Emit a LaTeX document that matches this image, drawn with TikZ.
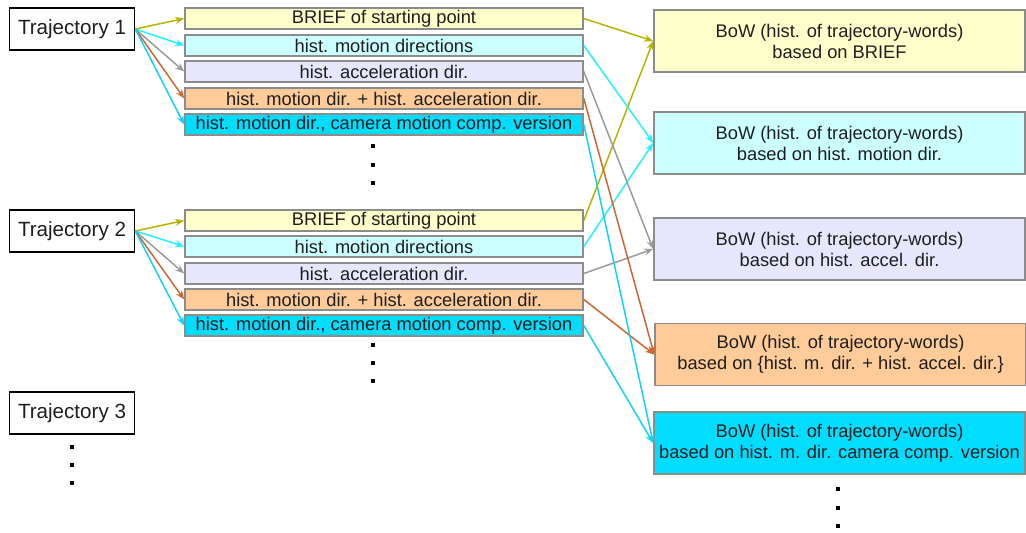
\documentclass[tikz,border=0pt]{standalone}
\usepackage{fontspec}
\setmainfont{Liberation Sans}
\usetikzlibrary{arrows,arrows.meta,positioning}

\definecolor{boxgray}{HTML}{8C8C8C}
\definecolor{briefFill}{HTML}{FFFFCC}
\definecolor{motionFill}{HTML}{CCFFFF}
\definecolor{accelFill}{HTML}{E6E6FC}
\definecolor{bothFill}{HTML}{FFCC99}
\definecolor{camFill}{HTML}{00DDFF}
\definecolor{briefArrow}{HTML}{B4B400}
\definecolor{motionArrow}{HTML}{22F0FF}
\definecolor{accelArrow}{HTML}{9A9A9A}
\definecolor{bothArrow}{HTML}{CC6633}
\definecolor{camArrow}{HTML}{11D2F2}
\definecolor{txt}{HTML}{1E1E1E}

\begin{document}
\begin{tikzpicture}[x=0.5pt,y=-0.5pt,>={Stealth[length=4.5pt,width=3.5pt]}]
\tikzstyle{traj}=[draw=black, line width=0.8pt, minimum width=62.5pt, minimum height=21pt, inner sep=0pt, text=txt, font=\fontsize{10.3}{12}\selectfont]
\tikzstyle{feat}=[draw=boxgray, line width=0.8pt, minimum width=199pt, minimum height=10.5pt, inner sep=0pt, text=txt, font=\fontsize{9.15}{11}\selectfont]
\tikzstyle{bow}=[draw=boxgray, line width=0.8pt, minimum width=185.5pt, minimum height=31pt, inner sep=0pt, align=center, text=txt, font=\fontsize{9.15}{10.5}\selectfont]
\tikzstyle{dot}=[fill=black, minimum size=2pt, inner sep=0pt]
\tikzstyle{link}=[line width=0.75pt]

\useasboundingbox (0,0) rectangle (1026,532);

%%%%%%%%%%%%%%%%%%%%%%%%%%%%%%
%%%%%
%%%%% TRAJECTORIES
\node[traj] (t_1) at (72,29) {Trajectory 1};
\node[traj] (t_2) at (72,231) {Trajectory 2};
\node[traj] (t_3) at (72,413) {Trajectory 3};

\node[dot] (d_31) at (72,447) {};
\node[dot] (d_32) at (72,465) {};
\node[dot] (d_33) at (72,483) {};

%%%%%%%%%%%%%%%%%%%%%%%%%%%%%%
%%%%%
%%%%% FEATURES OF TRAJECTORY 1
\node[feat, fill=briefFill] (b_1) at (384,18.5) {BRIEF of starting point};
\node[feat, fill=motionFill] (m_1) at (384,45.5) {hist. motion directions};
\node[feat, fill=accelFill] (a_1) at (384,71.5) {hist. acceleration dir.};
\node[feat, fill=bothFill] (ma_1) at (384,98.5) {hist. motion dir. + hist. acceleration dir.};
\node[feat, fill=camFill] (c_1) at (384,124.5) {hist. motion dir., camera motion comp. version};

\node[dot] (d_11) at (373,146) {};
\node[dot] (d_12) at (373,165) {};
\node[dot] (d_13) at (373,183) {};

%%%%% FEATURES OF TRAJECTORY 2
\node[feat, fill=briefFill] (b_2) at (384,220.5) {BRIEF of starting point};
\node[feat, fill=motionFill] (m_2) at (384,246.5) {hist. motion directions};
\node[feat, fill=accelFill] (a_2) at (384,273.5) {hist. acceleration dir.};
\node[feat, fill=bothFill] (ma_2) at (384,299.5) {hist. motion dir. + hist. acceleration dir.};
\node[feat, fill=camFill] (c_2) at (384,325.5) {hist. motion dir., camera motion comp. version};

\node[dot] (d_21) at (373,345) {};
\node[dot] (d_22) at (373,363) {};
\node[dot] (d_23) at (373,381) {};

%%%%%%%%%%%%%%%%%%%%%%%%%%%%%%
%%%%%
%%%%% BAGS OF WORDS
\node[bow, fill=briefFill] (w_b) at (839.5,41) {BoW (hist. of trajectory-words)\\based on BRIEF};
\node[bow, fill=motionFill] (w_m) at (839.5,143) {BoW (hist. of trajectory-words)\\based on hist. motion dir.};
\node[bow, fill=accelFill] (w_a) at (839.5,249) {BoW (hist. of trajectory-words)\\based on hist. accel. dir.};
\node[bow, fill=bothFill] (w_ma) at (840.5,354.5) {BoW (hist. of trajectory-words)\\based on \{hist. m. dir. + hist. accel. dir.\}};
\node[bow, fill=camFill] (w_c) at (839.5,443) {BoW (hist. of trajectory-words)\\based on hist. m. dir. camera comp. version};

\node[dot] (d_41) at (838,489) {};
\node[dot] (d_42) at (838,508) {};
\node[dot] (d_43) at (838,526) {};

%%%%%%%%%%%%%%%%%%%%%%%%%%%%%%
%%%%%
%%%%% TRAJECTORY -> FEATURES
\draw[link, briefArrow, ->] (t_1.east) -- (b_1.west);
\draw[link, motionArrow, ->] (t_1.east) -- (m_1.west);
\draw[link, accelArrow, ->] (t_1.east) -- (a_1.west);
\draw[link, bothArrow, ->] (t_1.east) -- (ma_1.west);
\draw[link, camArrow, ->] (t_1.east) -- (c_1.west);

\draw[link, briefArrow, ->] (t_2.east) -- (b_2.west);
\draw[link, motionArrow, ->] (t_2.east) -- (m_2.west);
\draw[link, accelArrow, ->] (t_2.east) -- (a_2.west);
\draw[link, bothArrow, ->] (t_2.east) -- (ma_2.west);
\draw[link, camArrow, ->] (t_2.east) -- (c_2.west);

%%%%% FEATURES -> BAGS OF WORDS
\draw[link, briefArrow, ->] (b_1.east) -- (w_b.west);
\draw[link, briefArrow, ->] (b_2.east) -- (w_b.west);
\draw[link, motionArrow, ->] (m_1.east) -- (w_m.west);
\draw[link, motionArrow, ->] (m_2.east) -- (w_m.west);
\draw[link, accelArrow, ->] (a_1.east) -- (w_a.west);
\draw[link, accelArrow, ->] (a_2.east) -- (w_a.west);
\draw[link, bothArrow, ->] (ma_1.east) -- (w_ma.west);
\draw[link, bothArrow, ->] (ma_2.east) -- (w_ma.west);
\draw[link, camArrow, ->] (c_1.east) -- (w_c.west);
\draw[link, camArrow, ->] (c_2.east) -- (w_c.west);

\end{tikzpicture}
\end{document}
